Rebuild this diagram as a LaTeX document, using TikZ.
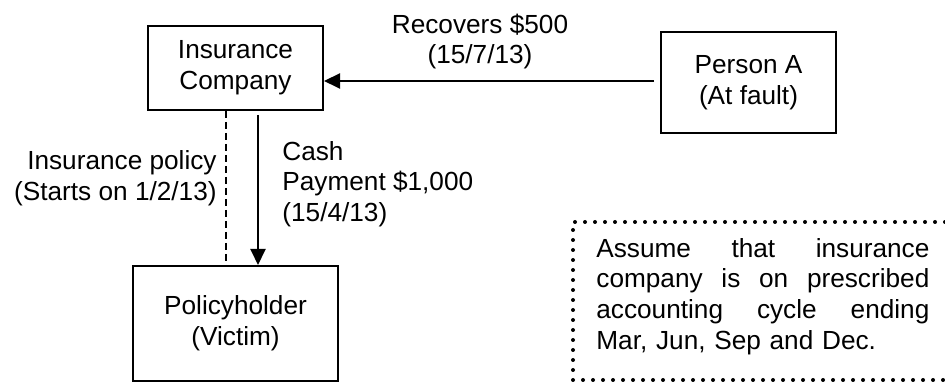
\documentclass[tikz,border=0pt]{standalone}
\usepackage{fontspec}
\setmainfont{Liberation Sans}
\usetikzlibrary{arrows.meta}
\begin{document}
\begin{tikzpicture}[x=0.5pt,y=-0.5pt,
  every node/.style={font=\fontsize{13.1}{15.3}\selectfont},
  box/.style={draw,line width=1pt,align=center,inner sep=0pt},
  lbl/.style={inner sep=0pt},
  conn/.style={line width=1pt,-{Triangle[length=8pt,width=7.5pt]}},
  dotbox/.style={line width=2pt,line cap=round,dash pattern=on 0pt off 5pt}]
\useasboundingbox (0,0) rectangle (945,383);
\node[box,minimum width=87.5pt,minimum height=42pt] (ic) at (235.5,68) {Insurance\\Company};
\node[box,minimum width=87.5pt,minimum height=50.5pt] (pa) at (748.5,82.5) {Person A\\(At fault)};
\node[box,minimum width=102.5pt,minimum height=57.5pt] (ph) at (235.5,323.5) {Policyholder\\(Victim)};
\draw[conn,shorten <=3pt] ([yshift=0.75pt]pa.west) -- ([yshift=0.75pt]ic.east |- pa.west);
\node[lbl,align=center] (rec) at (480,41.5) {Recovers \$500\\(15/7/13)};
\draw[line width=1pt,dash pattern=on 3.5pt off 2pt] ([xshift=-4.75pt]ic.south) -- ([xshift=-4.75pt]ic.south |- ph.north);
\draw[conn,shorten <=2pt] ([xshift=11.25pt]ic.south) -- ([xshift=11.25pt]ic.south |- ph.north);
\node[lbl,align=right,anchor=east] (pol) at (217,178.5) {Insurance policy\\(Starts on 1/2/13)};
\node[lbl,align=left,anchor=west] (cash) at (282,184) {Cash\\Payment \$1,000\\(15/4/13)};
\coordinate (dtl) at (573,222);
\coordinate (dbl) at (573,380);
\coordinate (dtr) at (945,222);
\coordinate (dbr) at (945,380);
\draw[dotbox] (dtr) -- (dtl) -- (dbl) -- (dbr);
\node[lbl,text width=166.5pt,align=left,anchor=west] (note) at (596,296.5)
  {Assume\hfill that\hfill insurance\\company\hfill is\hfill on\hfill prescribed\\accounting\hfill cycle\hfill ending\\Mar, Jun, Sep and Dec.};
\end{tikzpicture}
\end{document}
